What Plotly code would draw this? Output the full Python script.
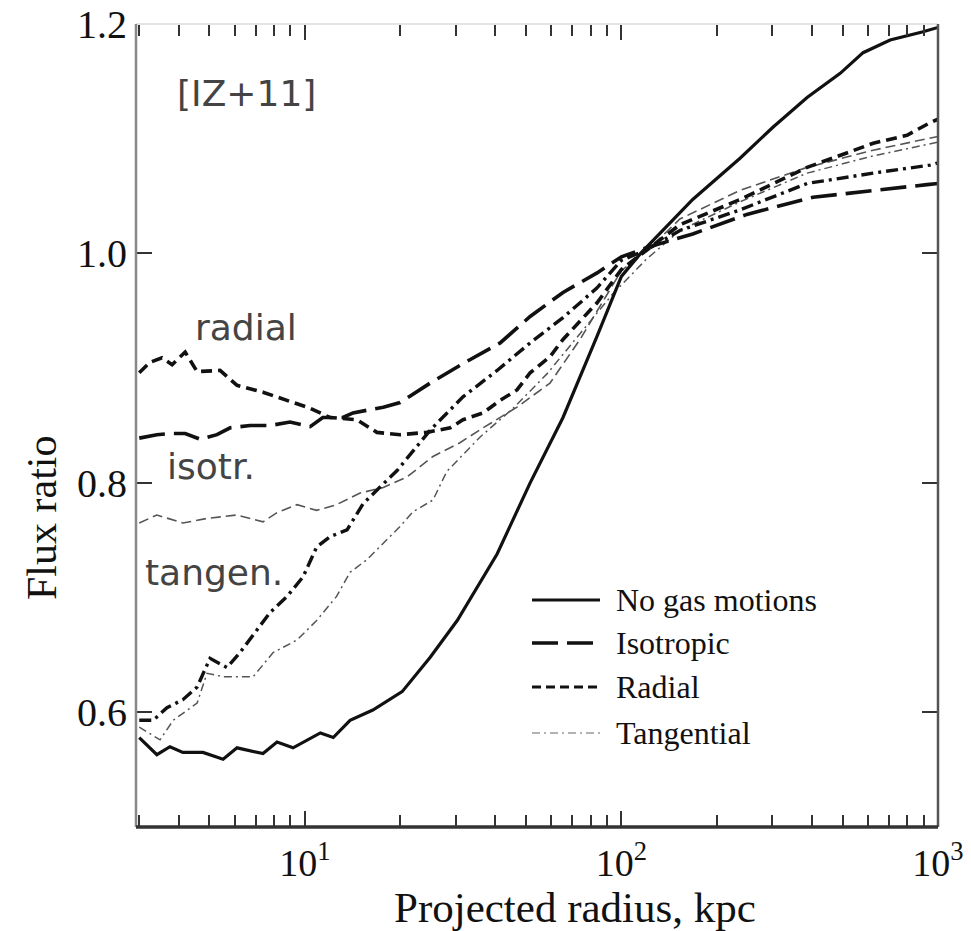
import math
import plotly.graph_objects as go

# Projected radius (kpc) and flux ratio for each gas-velocity model
r_none = [3.0, 3.41, 3.75, 4.12, 4.77, 5.52, 6.11, 7.38, 8.17, 9.18, 11.2, 12.3, 13.9, 16.4,
          20.3, 24.9, 30.3, 35.0, 40.5, 51.5, 65.4, 83.8, 100, 115, 168, 237, 301, 386, 491,
          580, 706, 891, 1000]
f_none = [0.578, 0.563, 0.570, 0.565, 0.565, 0.559, 0.569, 0.564, 0.574, 0.569, 0.582, 0.578,
          0.593, 0.602, 0.618, 0.648, 0.680, 0.709, 0.738, 0.800, 0.857, 0.928, 0.980, 1.000,
          1.047, 1.083, 1.110, 1.136, 1.157, 1.175, 1.186, 1.193, 1.197]

r_iso = [3.0, 3.41, 3.75, 4.19, 4.67, 5.28, 5.81, 6.72, 7.77, 8.98, 10.4, 11.4, 13.2, 14.2,
         17.7, 20.0, 24.9, 31.6, 41.4, 51.5, 65.4, 83.8, 100, 120, 168, 249, 403, 656, 924, 1000]
f_iso = [0.839, 0.842, 0.843, 0.843, 0.838, 0.842, 0.848, 0.850, 0.850, 0.853, 0.849, 0.857,
         0.857, 0.861, 0.866, 0.870, 0.887, 0.904, 0.922, 0.945, 0.966, 0.983, 0.997, 1.005,
         1.017, 1.034, 1.049, 1.055, 1.060, 1.061]

r_rad = [3.0, 3.24, 3.54, 3.81, 4.19, 4.57, 5.40, 6.11, 7.38, 8.79, 10.4, 12.0, 14.6, 16.9,
         20.0, 24.3, 28.8, 31.6, 36.6, 41.4, 46.8, 51.5, 59.5, 65.4, 83.8, 100, 120, 153, 237,
         386, 624, 798, 944, 1000]
f_rad = [0.896, 0.905, 0.909, 0.903, 0.914, 0.897, 0.898, 0.885, 0.879, 0.872, 0.865, 0.857,
         0.855, 0.844, 0.842, 0.844, 0.848, 0.855, 0.861, 0.872, 0.881, 0.896, 0.910, 0.925,
         0.957, 0.986, 1.003, 1.025, 1.047, 1.075, 1.096, 1.103, 1.114, 1.117]

r_tan2 = [3.0, 3.41, 4.12, 4.91, 6.11, 7.38, 8.17, 9.45, 10.9, 12.6, 14.9, 17.7, 21.0, 25.4,
          30.9, 36.6, 46.8, 59.5, 74.0, 100, 120, 153, 237, 386, 624, 944, 1000]
f_tan2 = [0.765, 0.772, 0.765, 0.769, 0.772, 0.766, 0.774, 0.781, 0.776, 0.781, 0.791, 0.796,
          0.805, 0.823, 0.835, 0.848, 0.866, 0.887, 0.925, 0.985, 1.002, 1.030, 1.055, 1.075,
          1.090, 1.100, 1.102]

r_dd = [3.0, 3.32, 3.67, 4.12, 4.57, 5.02, 5.68, 6.24, 7.07, 7.77, 8.79, 9.87, 10.9, 12.0,
        13.6, 15.3, 19.6, 24.9, 31.6, 40.5, 51.5, 65.4, 83.8, 100, 120, 153, 237, 386, 624,
        944, 1000]
f_dd = [0.593, 0.593, 0.604, 0.611, 0.622, 0.647, 0.639, 0.652, 0.672, 0.687, 0.701, 0.718,
        0.744, 0.753, 0.759, 0.782, 0.811, 0.846, 0.875, 0.898, 0.922, 0.944, 0.970, 0.994,
        1.003, 1.020, 1.038, 1.061, 1.070, 1.077, 1.079]

r_tan = [3.0, 3.49, 3.84, 4.57, 4.91, 5.52, 6.87, 7.94, 9.45, 10.9, 12.6, 13.9, 15.7, 17.3,
         20.0, 22.0, 25.4, 28.1, 35.8, 45.5, 58.2, 74.0, 94.1, 120, 153, 237, 386, 624, 944, 1000]
f_tan = [0.587, 0.576, 0.593, 0.608, 0.634, 0.631, 0.631, 0.652, 0.663, 0.680, 0.701, 0.722,
         0.733, 0.745, 0.762, 0.775, 0.785, 0.810, 0.840, 0.865, 0.895, 0.930, 0.965, 0.995,
         1.020, 1.045, 1.070, 1.085, 1.095, 1.097]

legend_names = ["No gas motions", "Isotropic", "Radial", "Tangential"]
tick_x = [10, 100, 1000]
tick_x_text = ["10<sup>1</sup>", "10<sup>2</sup>", "10<sup>3</sup>"]
minor_x = [3, 4, 5, 6, 7, 8, 9, 20, 30, 40, 50, 60, 70, 80, 90, 200, 300, 400, 500, 600, 700, 800, 900]
tick_y = [0.6, 0.8, 1.0, 1.2]

BLACK = "#111111"
styles = {
    "none": dict(color=BLACK, width=3.2, dash="solid"),
    "iso": dict(color=BLACK, width=3.6, dash="26px,9px"),
    "rad": dict(color=BLACK, width=3.6, dash="11px,6px"),
    "tan2": dict(color="#555555", width=1.6, dash="10px,5px"),
    "dd": dict(color=BLACK, width=3.4, dash="12px,5px,3px,5px"),
    "tan": dict(color="#555555", width=1.5, dash="8px,4px,2px,4px"),
}

fig = go.Figure()
series = [
    (r_tan2, f_tan2, "tan2"),
    (r_tan, f_tan, "tan"),
    (r_dd, f_dd, "dd"),
    (r_rad, f_rad, "rad"),
    (r_iso, f_iso, "iso"),
    (r_none, f_none, "none"),
]
for r, f, key in series:
    fig.add_trace(go.Scatter(x=r, y=f, mode="lines", line=styles[key],
                             showlegend=False, hoverinfo="skip"))

W, H = 971, 931
L, R, T, B = 136, 33, 24, 104
PW, PH = W - L - R, H - T - B


def px(xp):
    return (xp - L) / PW


def py(yp):
    return (H - B - yp) / PH


fig.update_layout(
    width=W, height=H,
    margin=dict(l=L, r=R, t=T, b=B, autoexpand=False),
    paper_bgcolor="white", plot_bgcolor="white",
    font=dict(family="Liberation Serif", color="#111111"),
    showlegend=False,
)

fig.update_xaxes(
    type="log", range=[math.log10(2.93), 3.0], automargin=False,
    showgrid=False, zeroline=False, showline=False, mirror="ticks",
    tickmode="array", tickvals=tick_x, ticktext=tick_x_text,
    ticks="inside", ticklen=16, tickwidth=2, tickcolor="#333333",
    tickfont=dict(size=38, family="Liberation Serif", color="#111111"),
    ticklabelstandoff=10,
    minor=dict(ticks="inside", tickvals=minor_x, ticklen=12, tickwidth=2, tickcolor="#333333"),
)
fig.update_yaxes(
    range=[0.5, 1.2], automargin=False,
    showgrid=False, zeroline=False, showline=False, mirror="ticks",
    tickmode="array", tickvals=tick_y, ticktext=[f"{v:.1f}" for v in tick_y],
    ticks="inside", ticklen=16, tickwidth=2, tickcolor="#333333",
    tickfont=dict(size=40, family="Liberation Serif", color="#111111"),
    ticklabelstandoff=8,
)

# frame: faint top edge, grey left edge, darker right and bottom edges
frame = [
    (0, 1, 1, 1, "#e4e4e4", 2),
    (0, 0, 0, 1, "#888888", 2.5),
    (1, 0, 1, 1, "#555555", 2.5),
    (0, 0, 1, 0, "#333333", 3.5),
]
for x0, y0, x1, y1, c, w in frame:
    fig.add_shape(type="line", xref="paper", yref="paper", x0=x0, y0=y0, x1=x1, y1=y1,
                  line=dict(color=c, width=w))

# axis titles
fig.add_annotation(text="Projected radius, kpc", xref="paper", yref="paper",
                   x=px(575), y=py(907), showarrow=False, xanchor="center", yanchor="middle",
                   font=dict(size=43, family="Liberation Serif", color="#111111"))
fig.add_annotation(text="Flux ratio", xref="paper", yref="paper", textangle=-90,
                   x=px(42), y=py(518), showarrow=False, xanchor="center", yanchor="middle",
                   font=dict(size=42, family="Liberation Serif", color="#111111"))

# in-plot labels
for txt, xl, yc in [("[IZ+11]", 175, 93), ("radial", 193, 328),
                    ("isotr.", 165, 466), ("tangen.", 143, 572)]:
    fig.add_annotation(text=txt, xref="paper", yref="paper", x=px(xl), y=py(yc),
                       showarrow=False, xanchor="left", yanchor="middle",
                       font=dict(size=36, family="DejaVu Sans", color="#444444"))

# legend block
legend_styles = [styles["none"], styles["iso"], dict(color=BLACK, width=3.0, dash="9px,5px"),
                 dict(color="#999999", width=1.5, dash="8px,4px,2px,4px")]
legend_rows = [600, 643, 687, 733]
for name, st, yr in zip(legend_names, legend_styles, legend_rows):
    fig.add_shape(type="line", xref="paper", yref="paper",
                  x0=px(532), x1=px(600), y0=py(yr), y1=py(yr), line=st)
    fig.add_annotation(text=name, xref="paper", yref="paper", x=px(614), y=py(yr),
                       showarrow=False, xanchor="left", yanchor="middle",
                       font=dict(size=32, family="Liberation Serif", color="#111111"))

fig.write_html("out.html")
